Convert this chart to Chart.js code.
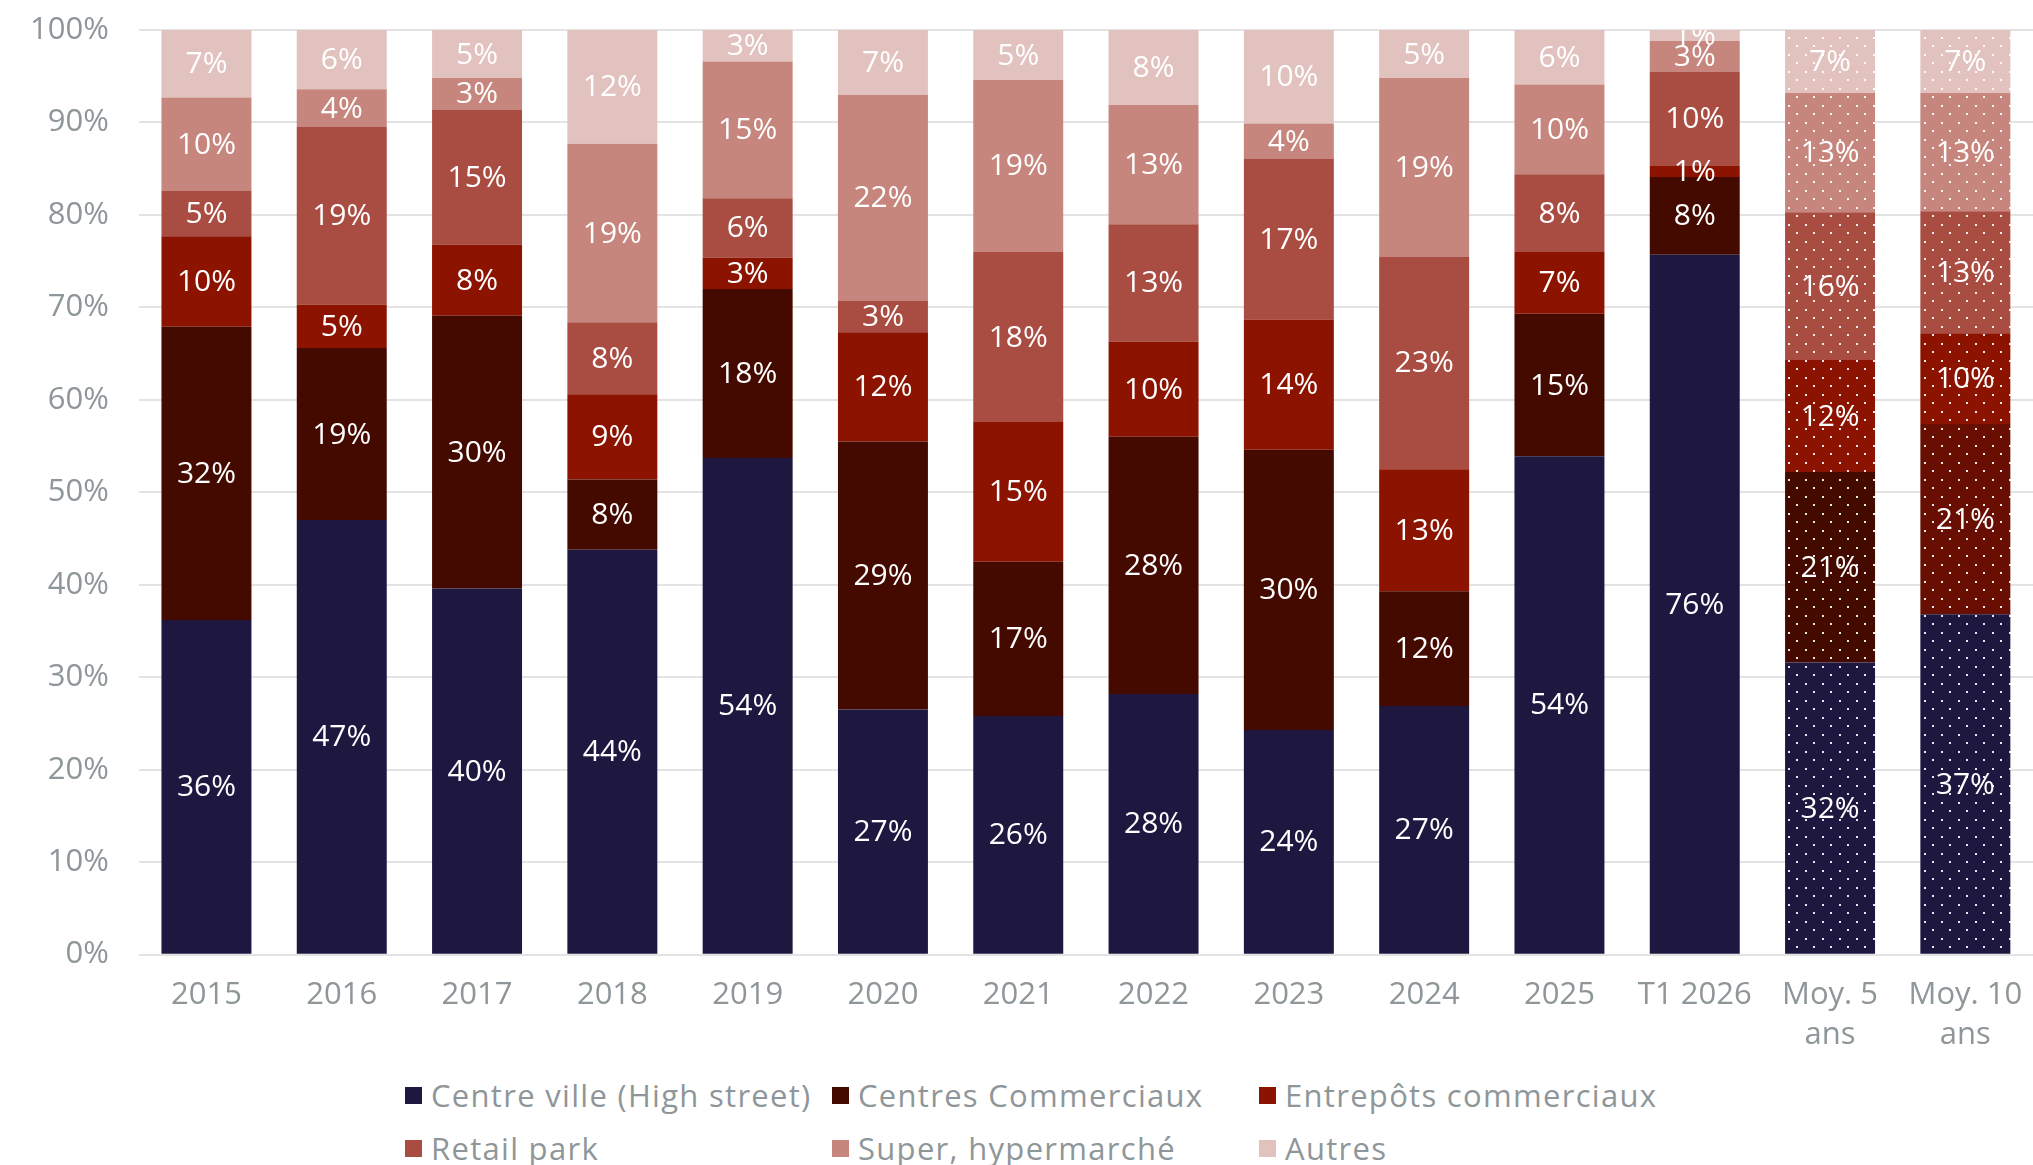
<!DOCTYPE html>
<html lang="fr">
<head>
<meta charset="utf-8">
<title>Investissements commerce par typologie</title>
<script src="https://cdn.jsdelivr.net/npm/chart.js@4.4.1/dist/chart.umd.min.js"></script>
<style>
  html, body { margin: 0; padding: 0; background: #fff; }
  #page { position: relative; width: 2033px; height: 1165px; }
  #zone { position: absolute; left: 0; top: 0; width: 2033px; height: 1068px; }
  #legende {
    position: absolute; left: 405px; top: 1075px;
    display: grid; grid-template-columns: 427px 427px 427px; row-gap: 13px;
  }
  .item { display: flex; align-items: center; height: 40px; font: 31px "Open Sans", sans-serif; letter-spacing: 1.3px; color: #8f9699; white-space: nowrap; }
  .carre { width: 17px; height: 17px; margin-right: 9px; flex: none; }
</style>
</head>
<body>
<div id="page">
  <div id="zone"><canvas id="graphique"></canvas></div>
  <div id="legende"></div>
</div>
<script>
// catégories (années + moyennes)
const categories = ['2015', '2016', '2017', '2018', '2019', '2020', '2021', '2022', '2023', '2024', '2025', 'T1 2026', ['Moy. 5', 'ans'], ['Moy. 10', 'ans']];

// parts en % par typologie
const centreVille        = [36.2, 47.0, 39.6, 43.8, 53.7, 26.5, 25.8, 28.2, 24.3, 26.9, 53.9, 75.7, 31.6, 36.8];
const centresCommerciaux = [31.7, 18.6, 29.5, 7.6, 18.3, 29.0, 16.7, 27.8, 30.3, 12.4, 15.4, 8.4, 20.6, 20.6];
const entrepots          = [9.8, 4.7, 7.7, 9.2, 3.4, 11.8, 15.1, 10.3, 14.1, 13.2, 6.7, 1.2, 12.1, 9.8];
const retailPark         = [4.9, 19.2, 14.6, 7.8, 6.4, 3.4, 18.4, 12.7, 17.4, 23.0, 8.4, 10.2, 16.0, 13.2];
const superHyper         = [10.1, 4.1, 3.4, 19.3, 14.8, 22.3, 18.6, 12.9, 3.8, 19.3, 9.7, 3.3, 12.9, 12.8];
const autres             = [7.3, 6.4, 5.2, 12.3, 3.4, 7.0, 5.4, 8.1, 10.1, 5.2, 5.9, 1.2, 6.8, 6.8];

const graduations = [0, 10, 20, 30, 40, 50, 60, 70, 80, 90, 100];

const series = [
  { nom: 'Centre ville (High street)', valeurs: centreVille, couleur: '#1e1740' },
  { nom: 'Centres Commerciaux', valeurs: centresCommerciaux, couleur: '#440a00', couleurMoy10: '#680e02' },
  { nom: 'Entrepôts commerciaux', valeurs: entrepots, couleur: '#8c1300' },
  { nom: 'Retail park', valeurs: retailPark, couleur: '#a94c42' },
  { nom: 'Super, hypermarché', valeurs: superHyper, couleur: '#c6867d' },
  { nom: 'Autres', valeurs: autres, couleur: '#e2c2be' }
];

const gris = '#8f9699';
Chart.defaults.font.family = '"Open Sans", sans-serif';

// motif pointillé pour les barres de moyennes
function motifPoints(couleur) {
  const c = document.createElement('canvas');
  c.width = 17; c.height = 17;
  const g = c.getContext('2d');
  g.fillStyle = couleur;
  g.fillRect(0, 0, 17, 17);
  g.fillStyle = 'rgba(255,255,255,0.9)';
  g.fillRect(3, 3, 2, 2);
  g.fillRect(11, 11, 2, 2);
  return g.createPattern(c, 'repeat');
}

const datasets = series.map(s => ({
  label: s.nom,
  data: s.valeurs,
  backgroundColor: categories.map((cat, i) => {
    if (i === 12) return motifPoints(s.couleur);
    if (i === 13) return motifPoints(s.couleurMoy10 || s.couleur);
    return s.couleur;
  }),
  borderWidth: 0,
  barPercentage: 0.665,
  categoryPercentage: 1
}));

// étiquettes blanches au centre de chaque segment
const etiquettes = {
  id: 'etiquettes',
  afterDatasetsDraw(chart) {
    const ctx = chart.ctx;
    const zone = chart.chartArea;
    ctx.save();
    ctx.beginPath();
    ctx.rect(zone.left, zone.top, zone.right - zone.left, zone.bottom - zone.top);
    ctx.clip();
    ctx.fillStyle = '#fff';
    ctx.font = '30px "Open Sans", sans-serif';
    ctx.textAlign = 'center';
    ctx.textBaseline = 'middle';
    chart.data.datasets.forEach((ds, d) => {
      chart.getDatasetMeta(d).data.forEach((barre, i) => {
        const v = ds.data[i];
        ctx.fillText(Math.round(v) + '%', barre.x, (barre.y + barre.base) / 2 + 1);
      });
    });
    ctx.restore();
  }
};

new Chart(document.getElementById('graphique'), {
  type: 'bar',
  data: { labels: categories, datasets: datasets },
  options: {
    responsive: true,
    maintainAspectRatio: false,
    animation: false,
    layout: { padding: { top: 30, right: 0, left: 0, bottom: 0 } },
    plugins: { legend: { display: false }, tooltip: { enabled: false } },
    scales: {
      x: {
        stacked: true,
        grid: { display: false },
        border: { display: false },
        ticks: { color: gris, font: { size: 31, lineHeight: 1.28 }, padding: 13, maxRotation: 0, autoSkip: false },
        afterFit: axe => { axe.paddingLeft = 0; axe.paddingRight = 0; }
      },
      y: {
        stacked: true,
        min: 0,
        max: 100,
        afterBuildTicks: axe => { axe.ticks = graduations.map(v => ({ value: v })); },
        grid: { color: '#e3e3e3', lineWidth: 2, drawTicks: false },
        border: { display: false },
        ticks: { color: gris, font: { size: 31 }, padding: 30, callback: v => v + '%' },
        afterFit: axe => { axe.paddingTop = 0; axe.paddingBottom = 0; }
      }
    }
  },
  plugins: [etiquettes]
});

// légende en trois colonnes
const legende = document.getElementById('legende');
series.forEach(s => {
  const item = document.createElement('div');
  item.className = 'item';
  const carre = document.createElement('span');
  carre.className = 'carre';
  carre.style.background = s.couleur;
  item.appendChild(carre);
  item.appendChild(document.createTextNode(s.nom));
  legende.appendChild(item);
});
</script>
</body>
</html>
